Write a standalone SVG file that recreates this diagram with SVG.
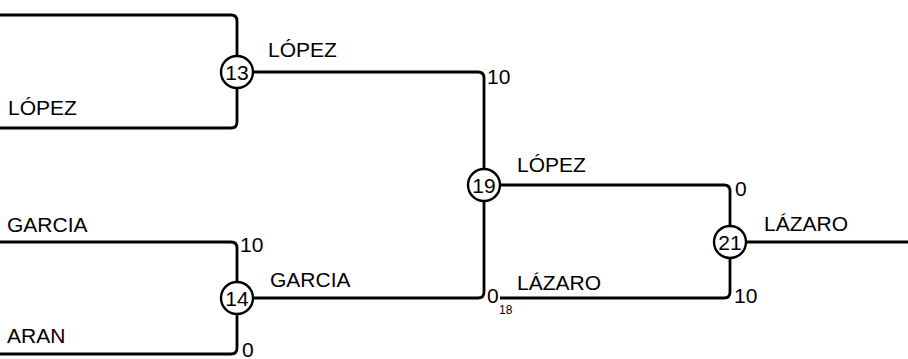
<svg xmlns="http://www.w3.org/2000/svg" width="908" height="359" viewBox="0 0 908 359">
<style>
.ln{fill:none;stroke:#000;stroke-width:2.8}
.nd{fill:#fff;stroke:#000;stroke-width:2.4}
.t{font-family:"Liberation Sans",Arial,sans-serif;font-size:21px;fill:#000}
.n{font-family:"Liberation Sans",Arial,sans-serif;font-size:21px;fill:#000;text-anchor:middle}
.s{font-family:"Liberation Sans",Arial,sans-serif;font-size:12px;fill:#000}
</style>
<rect width="908" height="359" fill="#fff"/>
<g id="connectors">
<path class="ln" d="M0 15 H231 Q237 15 237 21 V56"/>
<path class="ln" d="M0 128 H231 Q237 128 237 122 V88"/>
<path class="ln" d="M253 72 H478 Q484 72 484 78 V169"/>
<path class="ln" d="M0 242 H231 Q237 242 237 248 V282"/>
<path class="ln" d="M0 354 H231 Q237 354 237 348 V314"/>
<path class="ln" d="M253 298 H478 Q484 298 484 292 V201"/>
<path class="ln" d="M500 185 H724 Q730 185 730 191 V226"/>
<path class="ln" d="M500 298 H724 Q730 298 730 292 V258"/>
<path class="ln" d="M746 242 H908"/>
</g>
<g id="node13"><circle class="nd" cx="237" cy="72" r="16"/><text class="n" x="237" y="79.5">13</text></g>
<g id="node14"><circle class="nd" cx="237" cy="298" r="16"/><text class="n" x="237" y="305.5">14</text></g>
<g id="node19"><circle class="nd" cx="484" cy="185" r="16"/><text class="n" x="484" y="192.5">19</text></g>
<g id="node21"><circle class="nd" cx="730" cy="242" r="16"/><text class="n" x="730" y="249.5">21</text></g>
<g id="labels">
<text class="t" x="8" y="115">LÓPEZ</text>
<text class="t" x="268" y="57">LÓPEZ</text>
<text class="t" x="487" y="84">10</text>
<text class="t" x="517" y="172">LÓPEZ</text>
<text class="t" x="735" y="196">0</text>
<text class="t" x="764" y="231">LÁZARO</text>
<text class="t" x="734" y="303">10</text>
<text class="t" x="517" y="290">LÁZARO</text>
<text class="t" x="487" y="303">0</text>
<text class="s" x="499" y="314">18</text>
<text class="t" x="270" y="287">GARCIA</text>
<text class="t" x="240" y="252">10</text>
<text class="t" x="242" y="357">0</text>
<text class="t" x="7" y="232">GARCIA</text>
<text class="t" x="7" y="343">ARAN</text>
</g>
</svg>
